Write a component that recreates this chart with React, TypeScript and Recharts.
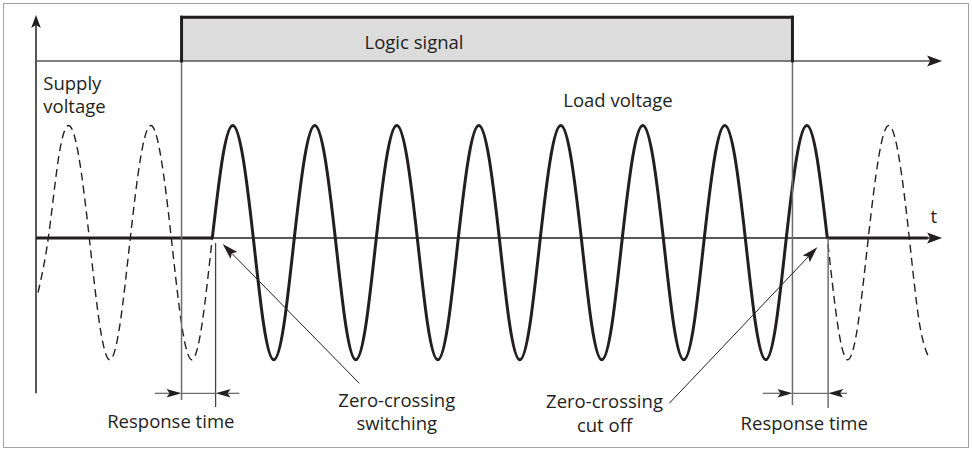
import React from 'react';
import {
  ComposedChart,
  Line,
  XAxis,
  YAxis,
  ReferenceLine,
  ReferenceArea,
  ReferenceDot,
} from 'recharts';

// ---------- data (time in ms, voltage normalised to the supply peak) ----------
const sampleStepMs = 2.5;
const firstSampleMs = -2.5;

// supply voltage read every 2.5 ms (one row = one 20 ms mains cycle)
const supplyVoltage = [
  -0.47,
  0, 0.69, 0.97, 0.69, 0, -0.74, -1.05, -0.74,
  0, 0.69, 0.97, 0.69, 0, -0.74, -1.05, -0.74,
  0, 0.69, 0.97, 0.69, 0, -0.74, -1.05, -0.74,
  0, 0.69, 0.97, 0.69, 0, -0.74, -1.05, -0.74,
  0, 0.69, 0.97, 0.69, 0, -0.74, -1.05, -0.74,
  0, 0.69, 0.97, 0.69, 0, -0.74, -1.05, -0.74,
  0, 0.69, 0.97, 0.69, 0, -0.74, -1.05, -0.74,
  0, 0.69, 0.97, 0.69, 0, -0.74, -1.05, -0.74,
  0, 0.69, 0.97, 0.69, 0, -0.74, -1.05, -0.74,
  0, 0.69, 0.97, 0.69, 0, -0.74, -1.05, -0.74,
  0, 0.69, 0.97, 0.69, 0, -0.74, -1.05,
];

const axisStartMs = -3;
const axisEndMs = 218;
const loadLineEndMs = 214.5;

const logicOnMs = 32.5;
const logicOffMs = 181.5;
const switchOnMs = 40; // zero-crossing switching
const switchOffMs = 190; // zero-crossing cut off
const responseMarkOnMs = 40.8;
const responseMarkOffMs = 190.2;

const logicLow = 1.526;
const logicHigh = 1.903;

const yMin = -1.75;
const yMax = 2;

// ---------- table built from the arrays ----------
type Row = { t: number; supply: number | null; loadOn: number | null; loadOff: number | null };
const rows: Row[] = supplyVoltage.map((v, i) => {
  const t = firstSampleMs + i * sampleStepMs;
  return {
    t,
    supply: v,
    loadOn: t >= switchOnMs && t <= switchOffMs ? v : null,
    loadOff: (t <= switchOnMs || t >= switchOffMs) && t <= loadLineEndMs ? 0 : null,
  };
});
rows.push({ t: axisStartMs, supply: null, loadOn: null, loadOff: 0 });
rows.push({ t: loadLineEndMs, supply: null, loadOn: null, loadOff: 0 });
rows.sort((a, b) => a.t - b.t);

// ---------- drawing helpers ----------
const INK = '#231f20';
const GREY = '#6e6e6e';
const FONT = "'Open Sans', 'Noto Sans', sans-serif";

type ArrowOpts = {
  color: string;
  width: number;
  head?: boolean;
  headColor?: string;
  len?: number;
  half?: number;
  cap?: 'butt' | 'square' | 'round';
};

const arrowShape = (o: ArrowOpts) => (p: any) => {
  const x1 = Number(p.x1);
  const y1 = Number(p.y1);
  const x2 = Number(p.x2);
  const y2 = Number(p.y2);
  const len = o.len ?? 14;
  const half = o.half ?? 5;
  const notch = 3;
  const ang = Math.atan2(y2 - y1, x2 - x1);
  const deg = (ang * 180) / Math.PI;
  const back = o.head ? len - notch : 0;
  const ex = x2 - Math.cos(ang) * back;
  const ey = y2 - Math.sin(ang) * back;
  return (
    <g>
      <line
        x1={x1}
        y1={y1}
        x2={ex}
        y2={ey}
        stroke={o.color}
        strokeWidth={o.width}
        strokeLinecap={o.cap ?? 'butt'}
      />
      {o.head && (
        <polygon
          transform={`translate(${x2},${y2}) rotate(${deg})`}
          points={`0,0 ${-len},${-half} ${-len + notch},0 ${-len},${half}`}
          fill={o.headColor ?? o.color}
        />
      )}
    </g>
  );
};

type Seg = { from: [number, number]; to: [number, number]; style: ArrowOpts };

const segments: Seg[] = [
  // axes
  { from: [axisStartMs, -1.339], to: [axisStartMs, 1.922], style: { color: INK, width: 1.5, head: true, len: 13, half: 4.8 } },
  { from: [axisStartMs, 0], to: [axisEndMs, 0], style: { color: INK, width: 1.3, head: true, len: 15, half: 5.5 } },
  { from: [axisStartMs, logicLow], to: [axisEndMs, logicLow], style: { color: '#555', width: 1.5, head: true, headColor: INK, len: 15, half: 5.5 } },
  // vertical marker lines
  { from: [logicOnMs, logicLow], to: [logicOnMs, -1.397], style: { color: GREY, width: 1.5 } },
  { from: [logicOffMs, logicLow], to: [logicOffMs, -1.44], style: { color: GREY, width: 1.5 } },
  { from: [responseMarkOnMs, -0.043], to: [responseMarkOnMs, -1.457], style: { color: '#444', width: 1.3 } },
  { from: [responseMarkOffMs, 0], to: [responseMarkOffMs, -1.466], style: { color: GREY, width: 1.5 } },
  // response time dimension arrows
  { from: [26.0, -1.339], to: [logicOnMs, -1.339], style: { color: GREY, width: 1.3, head: true, headColor: INK, len: 15, half: 4.3 } },
  { from: [logicOnMs, -1.339], to: [responseMarkOnMs, -1.339], style: { color: GREY, width: 1.3 } },
  { from: [46.6, -1.339], to: [responseMarkOnMs, -1.339], style: { color: GREY, width: 1.3, head: true, headColor: INK, len: 15, half: 4.3 } },
  { from: [174.3, -1.339], to: [logicOffMs, -1.339], style: { color: GREY, width: 1.3, head: true, headColor: INK, len: 15, half: 4.3 } },
  { from: [logicOffMs, -1.339], to: [responseMarkOffMs, -1.339], style: { color: GREY, width: 1.3 } },
  { from: [194.8, -1.339], to: [responseMarkOffMs, -1.339], style: { color: GREY, width: 1.3, head: true, headColor: INK, len: 15, half: 4.3 } },
  // annotation pointers
  { from: [75.85, -1.2526], to: [42.54, -0.052], style: { color: INK, width: 1, head: true, len: 16, half: 4.8 } },
  { from: [151.46, -1.425], to: [187.56, -0.08], style: { color: INK, width: 1, head: true, len: 16, half: 4.8 } },
  // logic signal outline
  { from: [logicOnMs, logicLow], to: [logicOnMs, logicHigh], style: { color: INK, width: 3, cap: 'square' } },
  { from: [logicOnMs, logicHigh], to: [logicOffMs, logicHigh], style: { color: INK, width: 3, cap: 'square' } },
  { from: [logicOffMs, logicHigh], to: [logicOffMs, logicLow], style: { color: INK, width: 3, cap: 'square' } },
];

type Lbl = { lines: string[]; t: number; v: number; anchor: 'start' | 'middle' | 'end'; gap?: number };
const labels: Lbl[] = [
  { lines: ['Logic signal'], t: 89.2, v: 1.629, anchor: 'middle' },
  { lines: ['Supply', 'voltage'], t: -1.22, v: 1.276, anchor: 'start', gap: 23 },
  { lines: ['Load voltage'], t: 138.95, v: 1.132, anchor: 'middle' },
  { lines: ['Zero-crossing', 'switching'], t: 85.0, v: -1.457, anchor: 'middle', gap: 23 },
  { lines: ['Zero-crossing', 'cut off'], t: 135.66, v: -1.468, anchor: 'middle', gap: 24 },
  { lines: ['Response time'], t: 29.88, v: -1.64, anchor: 'middle' },
  { lines: ['Response time'], t: 184.37, v: -1.655, anchor: 'middle' },
  { lines: ['t'], t: 216.0, v: 0.129, anchor: 'middle' },
];

const textShape = (l: Lbl) => (p: any) => (
  <text
    x={p.cx}
    y={p.cy}
    textAnchor={l.anchor}
    fontFamily={FONT}
    fontSize={18.5}
    fill={INK}
  >
    {l.lines.map((s, i) => (
      <tspan key={i} x={p.cx} dy={i === 0 ? 0 : l.gap ?? 23}>
        {s}
      </tspan>
    ))}
  </text>
);

export default function App() {
  return (
    <div style={{ position: 'absolute', left: 0, top: 0, width: 972, height: 455, background: '#fff' }}>
      <div
        style={{
          position: 'absolute',
          left: 2.5,
          top: 3,
          width: 966,
          height: 445,
          border: '1.5px solid #a3a3a3',
          boxSizing: 'border-box',
        }}
      />
      <ComposedChart
        width={972}
        height={455}
        data={rows}
        margin={{ top: 6, right: 29.9, bottom: 14, left: 36 }}
        style={{ position: 'absolute', left: 0, top: 0 }}
      >
        <XAxis type="number" dataKey="t" domain={[axisStartMs, axisEndMs]} allowDataOverflow hide />
        <YAxis type="number" domain={[yMin, yMax]} allowDataOverflow hide />
        <ReferenceArea
          x1={logicOnMs}
          x2={logicOffMs}
          y1={logicLow}
          y2={logicHigh}
          fill="#dcdcdd"
          fillOpacity={1}
          stroke="none"
        />
        <Line
          dataKey="supply"
          type="natural"
          stroke={INK}
          strokeWidth={1.4}
          strokeDasharray="8 5"
          dot={false}
          activeDot={false}
          connectNulls
          isAnimationActive={false}
        />
        <Line
          dataKey="loadOn"
          type="natural"
          stroke={INK}
          strokeWidth={3}
          dot={false}
          activeDot={false}
          isAnimationActive={false}
        />
        <Line
          dataKey="loadOff"
          type="linear"
          stroke={INK}
          strokeWidth={3}
          dot={false}
          activeDot={false}
          isAnimationActive={false}
        />
        {segments.map((s, i) => (
          <ReferenceLine
            key={`s${i}`}
            segment={[
              { x: s.from[0], y: s.from[1] },
              { x: s.to[0], y: s.to[1] },
            ]}
            ifOverflow="visible"
            shape={arrowShape(s.style)}
          />
        ))}
        {labels.map((l, i) => (
          <ReferenceDot
            key={`l${i}`}
            x={l.t}
            y={l.v}
            r={0}
            ifOverflow="visible"
            shape={textShape(l)}
          />
        ))}
      </ComposedChart>
    </div>
  );
}
